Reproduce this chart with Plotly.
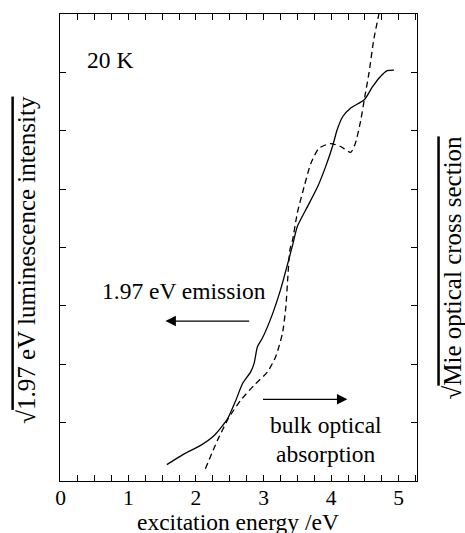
import plotly.graph_objects as go

# Emission (solid) curve: sqrt luminescence intensity vs excitation energy
emis_x = [1.57, 1.82, 2.07, 2.27, 2.47, 2.59, 2.69, 2.81, 2.86, 2.91, 2.98, 3.11, 3.25, 3.43,
          3.50, 3.65, 3.80, 3.92, 4.02, 4.09, 4.17, 4.29, 4.49, 4.61, 4.73, 4.83, 4.93]
emis_y = [0.28, 0.46, 0.61, 0.78, 1.07, 1.38, 1.67, 1.87, 2.01, 2.30, 2.44, 2.79, 3.27, 4.04,
          4.36, 4.70, 5.04, 5.39, 5.73, 6.02, 6.24, 6.39, 6.53, 6.75, 6.93, 7.03, 7.04]

# Absorption (dashed) curve: sqrt Mie optical cross section
abs_x = [2.14, 2.32, 2.48, 2.66, 2.86, 3.06, 3.18, 3.28, 3.33, 3.36, 3.39, 3.43, 3.50, 3.60,
         3.70, 3.82, 3.99, 4.14, 4.29, 4.36, 4.44, 4.49, 4.56, 4.63, 4.71]
abs_y = [0.21, 0.70, 1.07, 1.38, 1.64, 1.87, 2.13, 2.53, 2.98, 3.50, 3.96, 4.13, 4.59, 5.04,
         5.44, 5.70, 5.78, 5.73, 5.63, 5.79, 6.19, 6.53, 6.99, 7.56, 8.02]

x_ticks = [0, 1, 2, 3, 4, 5]
y_ticks = [1, 2, 3, 4, 5, 6, 7]

FONT = "Liberation Serif"
FS = 23.5
FS_TICK = 21.5
FS_T = 25

fig = go.Figure()
fig.add_trace(go.Scatter(x=emis_x, y=emis_y, mode="lines",
                         line=dict(color="black", width=1.3, shape="spline", smoothing=0.6),
                         showlegend=False, hoverinfo="skip"))
fig.add_trace(go.Scatter(x=abs_x, y=abs_y, mode="lines",
                         line=dict(color="black", width=1.3, dash="6px,4px", shape="spline", smoothing=0.6),
                         showlegend=False, hoverinfo="skip"))

def txt(x, y, s, ref="data", angle=0, size=FS):
    r = dict(xref="x", yref="y") if ref == "data" else dict(xref="paper", yref="paper")
    return dict(x=x, y=y, text=s, showarrow=False, textangle=angle,
                xanchor="center", yanchor="middle",
                font=dict(size=size, family=FONT, color="black"), **r)

ann = [
    txt(0.725, 7.22, "20 K"),
    txt(1.82, 3.26, "1.97 eV emission"),
    txt(3.92, 0.96, "bulk optical"),
    txt(3.92, 0.47, "absorption"),
    dict(x=1.55, y=2.74, ax=2.81, ay=2.74, xref="x", yref="y", axref="x", ayref="y",
         text="", showarrow=True, arrowhead=2, arrowsize=1.6, arrowwidth=1.3, arrowcolor="black"),
    dict(x=4.24, y=1.40, ax=2.97, ay=1.40, xref="x", yref="y", axref="x", ayref="y",
         text="", showarrow=True, arrowhead=2, arrowsize=1.6, arrowwidth=1.3, arrowcolor="black"),
    txt(0.498, -0.0878, "excitation energy /eV", ref="paper"),
    txt(-0.0924, 0.474, "√<span style='text-decoration:overline'>1.97 eV luminescence intensity</span>",
        ref="paper", angle=-90, size=FS_T),
    txt(1.099, 0.456, "√<span style='text-decoration:overline'>Mie optical cross section</span>",
        ref="paper", angle=-90, size=FS_T),
]

fig.update_layout(
    width=465, height=533,
    margin=dict(l=60, r=48, t=14, b=52),
    paper_bgcolor="white", plot_bgcolor="white",
    annotations=ann,
    xaxis=dict(range=[-0.01, 5.27], tickvals=x_ticks, ticktext=[str(v) for v in x_ticks],
               ticks="inside", ticklen=6, tickwidth=1.1, tickcolor="black",
               minor=dict(dtick=0.25, tick0=0, ticks="inside", ticklen=6, tickwidth=1.1, tickcolor="black"),
               showline=True, linecolor="black", linewidth=1.3, mirror="ticks",
               showgrid=False, zeroline=False, ticklabelstandoff=-3,
               tickfont=dict(size=FS_TICK, family=FONT, color="black")),
    yaxis=dict(range=[0, 8], tickvals=y_ticks, showticklabels=False,
               ticks="inside", ticklen=6, tickwidth=1.1, tickcolor="black",
               showline=True, linecolor="black", linewidth=1.3, mirror="ticks",
               showgrid=False, zeroline=False),
)

fig.write_html("out.html")
